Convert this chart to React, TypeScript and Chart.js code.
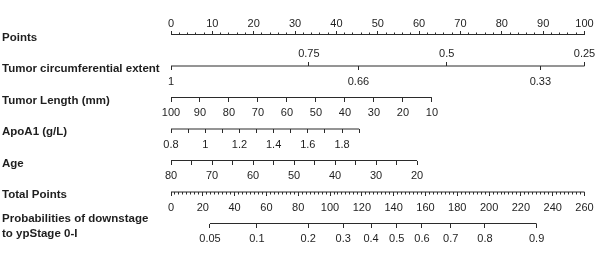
import React, { useEffect, useRef } from "react";
import { Chart, registerables } from "chart.js";

Chart.register(...registerables);

// ---------- data ----------
const rowNames: (string | string[])[] = [
  "Points",
  "Tumor circumferential extent",
  "Tumor Length (mm)",
  "ApoA1 (g/L)",
  "Age",
  "Total Points",
  ["Probabilities of downstage", "to ypStage 0-I"],
];

// Points axis (0-100)
const pointsLabels = [0, 10, 20, 30, 40, 50, 60, 70, 80, 90, 100];
const pointsMinorStep = 2;

// Tumor circumferential extent: value -> points (1 -> 0, 0.25 -> 100)
const tceUpperLabels = [0.75, 0.5, 0.25];
const tceLowerLabels = [1, 0.66, 0.33];
const tceAnchor = { v0: 1, v1: 0.25, p1: 100 };

// Tumor length (mm): 100 -> 0 points, 10 -> 63.1 points
const tlTicks = [100, 90, 80, 70, 60, 50, 40, 30, 20, 10];
const tlAnchor = { v0: 100, v1: 10, p1: 63.1 };

// ApoA1 (g/L): 0.8 -> 0 points, 1.9 -> 45.5 points
const apoTicks = [0.8, 0.9, 1, 1.1, 1.2, 1.3, 1.4, 1.5, 1.6, 1.7, 1.8, 1.9];
const apoLabels = [0.8, 1, 1.2, 1.4, 1.6, 1.8];
const apoAnchor = { v0: 0.8, v1: 1.9, p1: 45.5 };

// Age: 80 -> 0 points, 20 -> 59.5 points
const ageTicks = [80, 75, 70, 65, 60, 55, 50, 45, 40, 35, 30, 25, 20];
const ageLabels = [80, 70, 60, 50, 40, 30, 20];
const ageAnchor = { v0: 80, v1: 20, p1: 59.5 };

// Total points (0-260)
const totalLabels = [0, 20, 40, 60, 80, 100, 120, 140, 160, 180, 200, 220, 240, 260];
const totalMinorStep = 2.5;

// Probability of downstage, with the total points where each one sits
const probValues = [0.05, 0.1, 0.2, 0.3, 0.4, 0.5, 0.6, 0.7, 0.8, 0.9];
const probTotalPoints = [24.5, 54, 86.3, 108.3, 125.8, 141.9, 157.8, 175.9, 197.4, 229.9];

// ---------- styles ----------
const FONT = "'Liberation Sans', Arial, Helvetica, sans-serif";
const LINE = "#2b2b2b";
const TEXT = "#1e1e1e";
const TICK_FONT = { family: FONT, size: 11 };
const MAJOR = 4;
const MINOR = 2.5;
const PAD_BELOW = 5;

function steps(from: number, to: number, step: number) {
  const out: number[] = [];
  const n = Math.round((to - from) / step);
  for (let i = 0; i <= n; i++) out.push(+(from + i * step).toFixed(4));
  return out;
}

// scale range (in the variable's units) that spans 0..100 points
function rangeFor(a: { v0: number; v1: number; p1: number }) {
  const atZero = a.v0;
  const atHundred = a.v0 + ((a.v1 - a.v0) * 100) / a.p1;
  return {
    min: Math.min(atZero, atHundred),
    max: Math.max(atZero, atHundred),
    reverse: atHundred < atZero,
  };
}

function axis(o: {
  row: number;
  min: number;
  max: number;
  reverse?: boolean;
  ticks: number[];
  label?: (v: number, i: number) => string;
  tickLength: number;
  padding?: number;
}) {
  return {
    type: "linear",
    axis: "x",
    position: { y: o.row },
    min: o.min,
    max: o.max,
    reverse: !!o.reverse,
    bounds: "data",
    offset: false,
    border: { display: false },
    grid: {
      display: true,
      drawOnChartArea: false,
      drawTicks: true,
      tickLength: o.tickLength,
      color: LINE,
      lineWidth: 1,
      tickWidth: 1,
    },
    ticks: {
      display: !!o.label,
      autoSkip: false,
      maxRotation: 0,
      minRotation: 0,
      padding: o.padding ?? 0,
      color: TEXT,
      font: TICK_FONT,
      callback: (v: number, i: number) => (o.label ? o.label(v, i) : ""),
    },
    afterBuildTicks: (s: any) => {
      s.ticks = o.ticks.map((v) => ({ value: v }));
    },
  };
}

const fmt = (list: number[]) => (v: number) => (list.includes(v) ? String(v) : "");

export default function App() {
  const ref = useRef<HTMLCanvasElement | null>(null);

  useEffect(() => {
    if (!ref.current) return;
    const tce = rangeFor(tceAnchor);
    const tl = rangeFor(tlAnchor);
    const apo = rangeFor(apoAnchor);
    const age = rangeFor(ageAnchor);

    const scales: any = {
      y: {
        type: "category",
        position: "left",
        offset: false,
        grid: { display: false },
        border: { display: false },
        ticks: {
          autoSkip: false,
          crossAlign: "far",
          labelOffset: 3,
          padding: 0,
          color: TEXT,
          font: { family: FONT, size: 11.5, weight: "bold", lineHeight: 1.25 },
        },
        afterFit: (s: any) => {
          s.width = 169;
        },
      },
      xPts: axis({ row: 0, min: 0, max: 100, ticks: pointsLabels, label: fmt(pointsLabels), tickLength: -MAJOR, padding: -13.3 }),
      xPtsMinor: axis({ row: 0, min: 0, max: 100, ticks: steps(0, 100, pointsMinorStep), tickLength: -MINOR }),
      xTceUp: axis({ row: 1, ...tce, ticks: tceUpperLabels, label: fmt(tceUpperLabels), tickLength: -MAJOR, padding: -14.4 }),
      xTceLow: axis({ row: 1, ...tce, ticks: tceLowerLabels, label: fmt(tceLowerLabels), tickLength: MAJOR, padding: PAD_BELOW }),
      xTl: axis({ row: 2, ...tl, ticks: tlTicks, label: fmt(tlTicks), tickLength: MAJOR, padding: PAD_BELOW }),
      xApo: axis({ row: 3, ...apo, ticks: apoTicks, label: fmt(apoLabels), tickLength: MAJOR, padding: PAD_BELOW }),
      xAge: axis({ row: 4, ...age, ticks: ageTicks, label: fmt(ageLabels), tickLength: MAJOR, padding: PAD_BELOW }),
      xTot: axis({ row: 5, min: 0, max: 260, ticks: totalLabels, label: fmt(totalLabels), tickLength: MAJOR, padding: PAD_BELOW }),
      xTotMinor: axis({ row: 5, min: 0, max: 260, ticks: steps(0, 260, totalMinorStep), tickLength: MINOR }),
      xProb: axis({
        row: 6,
        min: 0,
        max: 260,
        ticks: probTotalPoints,
        label: (_v, i) => String(probValues[i]),
        tickLength: MAJOR,
        padding: PAD_BELOW,
      }),
    };

    const line = (row: number, axisId: string, a: number, b: number) => ({
      data: [
        { x: a, y: rowNames[row] },
        { x: b, y: rowNames[row] },
      ],
      xAxisID: axisId,
      yAxisID: "y",
      borderColor: LINE,
      backgroundColor: LINE,
      borderWidth: 1,
      pointRadius: 0,
      pointHoverRadius: 0,
      fill: false,
      tension: 0,
      clip: false,
    });

    const chart = new Chart(ref.current, {
      type: "line",
      data: {
        labels: rowNames as any,
        datasets: [
          line(0, "xPts", pointsLabels[0], pointsLabels[pointsLabels.length - 1]),
          line(1, "xTceLow", tceLowerLabels[0], tceUpperLabels[tceUpperLabels.length - 1]),
          line(2, "xTl", tlTicks[0], tlTicks[tlTicks.length - 1]),
          line(3, "xApo", apoTicks[0], apoTicks[apoTicks.length - 1]),
          line(4, "xAge", ageTicks[0], ageTicks[ageTicks.length - 1]),
          line(5, "xTot", totalLabels[0], totalLabels[totalLabels.length - 1]),
          line(6, "xProb", probTotalPoints[0], probTotalPoints[probTotalPoints.length - 1]),
        ] as any,
      },
      options: {
        animation: false,
        responsive: true,
        maintainAspectRatio: false,
        devicePixelRatio: 1,
        events: [],
        layout: { padding: { left: 2, right: 15.5, top: 34.5, bottom: 37.5 } },
        plugins: { legend: { display: false }, tooltip: { enabled: false }, title: { display: false } },
        scales,
      } as any,
    });
    return () => chart.destroy();
  }, []);

  return (
    <div style={{ position: "absolute", left: 0, top: 0, width: 600, height: 261, background: "#fff" }}>
      <canvas ref={ref} />
    </div>
  );
}
